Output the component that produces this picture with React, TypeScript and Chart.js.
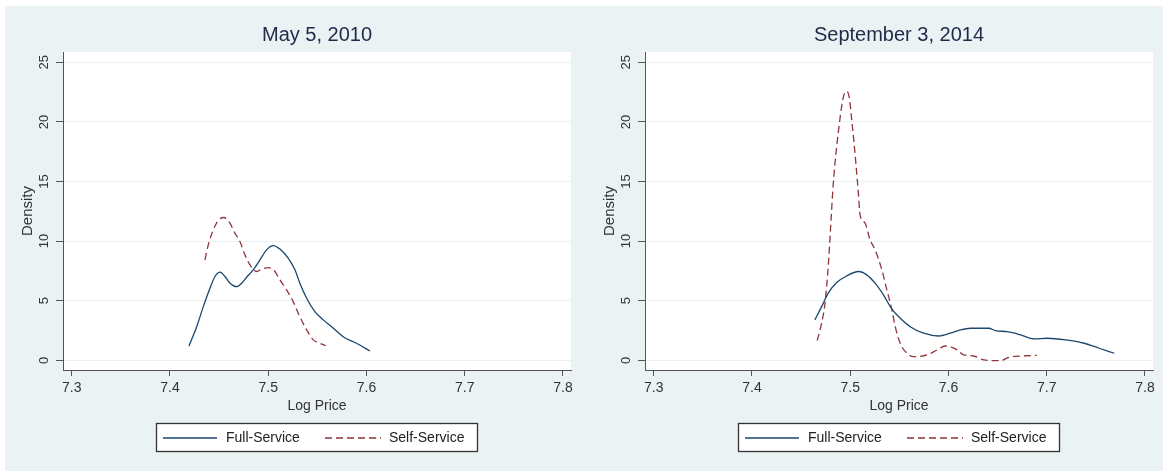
import React, { useEffect, useRef } from "react";
import { Chart, registerables } from "chart.js";

Chart.register(...registerables);

const FONT = '"Liberation Sans", Arial, Helvetica, sans-serif';

// ---- axis ticks / labels ----
const xTickValues = [7.3, 7.4, 7.5, 7.6, 7.7, 7.8];
const yTickValues = [0, 5, 10, 15, 20, 25];
const seriesLabels = ["Full-Service", "Self-Service"];
const panelTitles = ["May 5, 2010", "September 3, 2014"];
const xAxisTitle = "Log Price";
const yAxisTitle = "Density";

// ---- May 5, 2010 ----
const fs2010Price = [7.4193, 7.4272, 7.4339, 7.4407, 7.4458, 7.4509, 7.456, 7.4611, 7.4679, 7.4729, 7.478, 7.4847, 7.4916, 7.4983, 7.5051, 7.5119, 7.5203, 7.5272, 7.5322, 7.5391, 7.5475, 7.556, 7.5645, 7.5763, 7.5899, 7.6035];
const fs2010Density = [1.2, 2.82, 4.5, 6.05, 7.03, 7.39, 7.03, 6.47, 6.18, 6.47, 6.97, 7.59, 8.43, 9.27, 9.63, 9.33, 8.57, 7.59, 6.47, 5.21, 4.08, 3.39, 2.82, 1.98, 1.43, 0.78];

const ss2010Price = [7.4356, 7.439, 7.4441, 7.4491, 7.4549, 7.461, 7.4661, 7.4712, 7.4763, 7.4814, 7.4882, 7.4933, 7.5, 7.5068, 7.5119, 7.5187, 7.5254, 7.5322, 7.5391, 7.5458, 7.5526, 7.5584];
const ss2010Density = [8.43, 9.69, 10.95, 11.73, 11.98, 11.51, 10.67, 9.97, 8.85, 8.01, 7.45, 7.65, 7.78, 7.45, 6.75, 5.91, 4.92, 3.66, 2.55, 1.71, 1.43, 1.23];

// ---- September 3, 2014 ----
const fs2014Price = [7.464, 7.4709, 7.4776, 7.4862, 7.4964, 7.5083, 7.5168, 7.5253, 7.5338, 7.5424, 7.5509, 7.5611, 7.5747, 7.59, 7.6019, 7.6122, 7.6224, 7.6411, 7.6479, 7.6599, 7.6735, 7.687, 7.7007, 7.7194, 7.7381, 7.7534, 7.7688];
const fs2014Density = [3.39, 4.5, 5.63, 6.52, 7.08, 7.45, 7.17, 6.47, 5.49, 4.29, 3.53, 2.82, 2.27, 2.04, 2.27, 2.55, 2.69, 2.69, 2.49, 2.4, 2.13, 1.79, 1.85, 1.71, 1.43, 1.01, 0.59];

const ss2014Price = [7.4664, 7.4709, 7.4743, 7.4776, 7.4801, 7.4821, 7.4845, 7.4878, 7.4913, 7.4937, 7.4964, 7.4991, 7.5015, 7.5039, 7.5066, 7.5083, 7.51, 7.5151, 7.5202, 7.5253, 7.5322, 7.5373, 7.5424, 7.5458, 7.5509, 7.5577, 7.5645, 7.5782, 7.5884, 7.5968, 7.603, 7.6088, 7.6155, 7.6258, 7.636, 7.653, 7.6615, 7.6735, 7.6837, 7.6898];
const ss2014Density = [1.65, 3.11, 4.79, 7.87, 11.23, 14.03, 16.55, 19.08, 21.31, 22.29, 22.57, 22.02, 20.19, 18.24, 15.71, 14.03, 12.21, 11.51, 10.11, 9.27, 7.59, 5.91, 4.23, 2.82, 1.43, 0.59, 0.3, 0.45, 0.87, 1.2, 1.1, 0.87, 0.45, 0.36, 0.03, -0.03, 0.25, 0.36, 0.39, 0.42];

const FULL_COLOR = "#1a476f";
const SELF_COLOR = "#90353b";
const AXIS_COLOR = "#555555";
const GRID_COLOR = "#eaf2f3";
const TEXT_COLOR = "#333333";
const TITLE_COLOR = "#1e2a48";

const toPoints = (xs: number[], ys: number[]) => xs.map((x, i) => ({ x, y: ys[i] }));

const stataPlugin = {
  id: "stataFrame",
  beforeDraw(chart: any) {
    const { ctx, chartArea: a } = chart;
    ctx.save();
    ctx.fillStyle = "#ffffff";
    ctx.fillRect(a.left, a.top, a.right - a.left, a.bottom - a.top);
    ctx.restore();
  },
  afterDraw(chart: any, _args: any, opts: any) {
    const { ctx, chartArea: a } = chart;
    ctx.save();
    // panel title
    ctx.font = `20px ${FONT}`;
    ctx.fillStyle = TITLE_COLOR;
    ctx.textAlign = "center";
    ctx.textBaseline = "middle";
    ctx.fillText(opts.title, (a.left + a.right) / 2, 35);

    // legend box
    const bx = 156.5, by = 423.5, bw = 321, bh = 28;
    ctx.fillStyle = "#ffffff";
    ctx.fillRect(bx, by, bw, bh);
    ctx.strokeStyle = "#333333";
    ctx.lineWidth = 1.3;
    ctx.strokeRect(bx, by, bw, bh);

    const ly = 438;
    const items = [
      { x0: 163, x1: 217, tx: 226 },
      { x0: 325, x1: 381, tx: 389 },
    ];
    chart.data.datasets.forEach((ds: any, i: number) => {
      const it = items[i];
      ctx.beginPath();
      ctx.setLineDash(ds.borderDash || []);
      ctx.strokeStyle = ds.borderColor;
      ctx.lineWidth = 1.3;
      ctx.moveTo(it.x0, ly);
      ctx.lineTo(it.x1, ly);
      ctx.stroke();
      ctx.setLineDash([]);
      ctx.font = `14px ${FONT}`;
      ctx.fillStyle = "#222222";
      ctx.textAlign = "left";
      ctx.textBaseline = "middle";
      ctx.fillText(ds.label, it.tx, ly);
    });
    ctx.restore();
  },
};

function Panel(props: {
  left: number;
  title: string;
  fullX: number[];
  fullY: number[];
  selfX: number[];
  selfY: number[];
}) {
  const ref = useRef<HTMLCanvasElement | null>(null);
  useEffect(() => {
    if (!ref.current) return;
    const chart = new Chart(ref.current, {
      type: "line",
      data: {
        datasets: [
          {
            label: seriesLabels[0],
            data: toPoints(props.fullX, props.fullY),
            borderColor: FULL_COLOR,
            borderWidth: 1.3,
            pointRadius: 0,
            fill: false,
            cubicInterpolationMode: "monotone",
          },
          {
            label: seriesLabels[1],
            data: toPoints(props.selfX, props.selfY),
            borderColor: SELF_COLOR,
            borderWidth: 1.3,
            borderDash: [7, 4],
            pointRadius: 0,
            fill: false,
            cubicInterpolationMode: "monotone",
          },
        ],
      },
      options: {
        animation: false,
        responsive: false,
        events: [],
        layout: { padding: { left: 0, right: 10, top: 52, bottom: 50 } },
        plugins: {
          legend: { display: false },
          title: { display: false },
          tooltip: { enabled: false },
          stataFrame: { title: props.title },
        } as any,
        scales: {
          x: {
            type: "linear",
            min: 7.2911,
            max: 7.8082,
            afterBuildTicks: (s: any) => {
              s.ticks = xTickValues.map((v) => ({ value: v }));
            },
            afterFit: (s: any) => {
              s.height = 52;
            },
            ticks: {
              callback: (v: any) => Number(v).toFixed(1),
              font: { family: FONT, size: 14 },
              color: TEXT_COLOR,
              padding: 4,
              maxRotation: 0,
              autoSkip: false,
            },
            grid: {
              drawOnChartArea: false,
              drawTicks: true,
              tickLength: 6,
              tickColor: AXIS_COLOR,
              tickWidth: 1,
            },
            border: { display: true, color: AXIS_COLOR, width: 1 },
            title: {
              display: true,
              text: xAxisTitle,
              font: { family: FONT, size: 14 },
              color: TEXT_COLOR,
              padding: { top: 0, bottom: 7.9 },
            },
          },
          y: {
            type: "linear",
            min: -0.815,
            max: 25.87,
            afterBuildTicks: (s: any) => {
              s.ticks = yTickValues.map((v) => ({ value: v }));
            },
            afterFit: (s: any) => {
              s.width = 63;
            },
            ticks: {
              callback: (v: any) => String(v),
              font: { family: FONT, size: 13 },
              color: TEXT_COLOR,
              padding: 4,
              minRotation: 90,
              maxRotation: 90,
              crossAlign: "center",
              autoSkip: false,
            },
            grid: {
              color: GRID_COLOR,
              lineWidth: 1,
              drawTicks: true,
              tickLength: 7,
              tickColor: AXIS_COLOR,
              tickWidth: 1,
            },
            border: { display: true, color: AXIS_COLOR, width: 1 },
            title: {
              display: true,
              text: yAxisTitle,
              font: { family: FONT, size: 15 },
              color: TEXT_COLOR,
              padding: { top: 18.8, bottom: 0 },
            },
          },
        },
      } as any,
      plugins: [stataPlugin as any],
    });
    return () => chart.destroy();
  }, []);
  return (
    <canvas
      ref={ref}
      width={581}
      height={472}
      style={{ position: "absolute", left: props.left, top: 0, width: 581, height: 472 }}
    />
  );
}

export default function App() {
  return (
    <div
      style={{
        position: "fixed",
        left: 0,
        top: 0,
        width: 1163,
        height: 472,
        background: "#ffffff",
        overflow: "hidden",
      }}
    >
      <div
        style={{
          position: "absolute",
          left: 5,
          top: 6,
          width: 1158,
          height: 465,
          background: "#eaf2f3",
        }}
      />
      <Panel left={0} title={panelTitles[0]} fullX={fs2010Price} fullY={fs2010Density} selfX={ss2010Price} selfY={ss2010Density} />
      <Panel left={582} title={panelTitles[1]} fullX={fs2014Price} fullY={fs2014Density} selfX={ss2014Price} selfY={ss2014Density} />
    </div>
  );
}
